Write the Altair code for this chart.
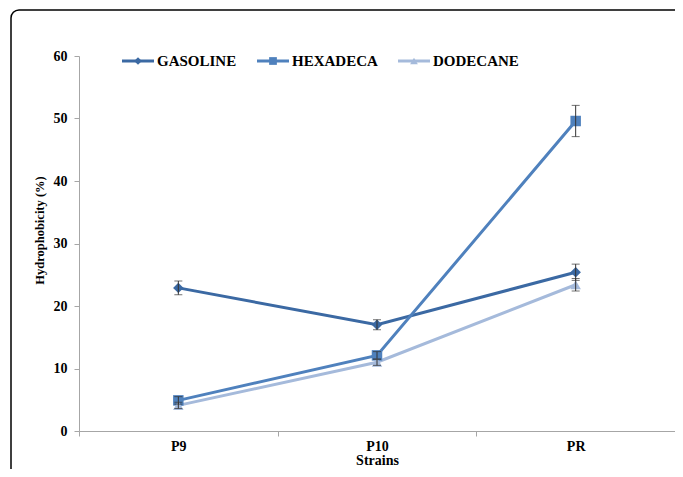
import altair as alt
import pandas as pd

strains = ["P9", "P10", "PR"]
series = ["GASOLINE", "HEXADECA", "DODECANE"]
gasoline = [22.9, 17.0, 25.4]
gasoline_err = [1.1, 0.8, 1.3]
hexadeca = [4.9, 12.1, 49.6]
hexadeca_err = [0.6, 0.6, 2.5]
dodecane = [4.1, 11.0, 23.4]
dodecane_err = [0.5, 0.5, 1.0]
colors = ["#3b69a3", "#4f81bd", "#a5badb"]
shapes = ["diamond", "square", "triangle-up"]
y_ticks = [0, 10, 20, 30, 40, 50, 60]

rows = []
for name, vals, errs in [("GASOLINE", gasoline, gasoline_err),
                         ("HEXADECA", hexadeca, hexadeca_err),
                         ("DODECANE", dodecane, dodecane_err)]:
    for s, v, e in zip(strains, vals, errs):
        rows.append({"strain": s, "series": name, "value": v,
                     "lo": v - e, "hi": v + e})
df = pd.DataFrame(rows)

FONT = "Liberation Serif"
W, H = 596, 375

color = alt.Color("series:N", scale=alt.Scale(domain=series, range=colors), legend=None)
shape = alt.Shape("series:N", scale=alt.Scale(domain=series, range=shapes), legend=None)
xenc = alt.X("strain:N", sort=strains, title="Strains",
             scale=alt.Scale(paddingInner=0, paddingOuter=0),
             axis=alt.Axis(labelAngle=0, bandPosition=0, tickBand="extent",
                           domainColor="#a6a6a6", tickColor="#a6a6a6", tickSize=5,
                           labelPadding=3, titleY=33, titleBaseline="alphabetic",
                           labelFont=FONT,
                           titleFont=FONT, labelFontSize=14, titleFontSize=14,
                           labelFontWeight="bold", titleFontWeight="bold",
                           labelColor="black", titleColor="black"))
yscale = alt.Scale(domain=[0, 60], nice=False, zero=True)
yenc = alt.Y("value:Q", scale=yscale, title="Hydrophobicity (%)",
             axis=alt.Axis(values=y_ticks, grid=False, domainColor="#a6a6a6",
                           tickColor="#a6a6a6", tickSize=5, labelPadding=7,
                           titleX=-40, titleY=174, titleAngle=270,
                           titleAlign="center", titleBaseline="middle",
                           labelFont=FONT, titleFont=FONT,
                           labelFontSize=14, titleFontSize=12.5,
                           labelFontWeight="bold", titleFontWeight="bold",
                           labelColor="black", titleColor="black"))

base = alt.Chart(df)
lines = base.mark_line(strokeWidth=3).encode(x=xenc, y=yenc, color=color,
                                              detail="series:N")
points = base.mark_point(filled=True, opacity=1, size=110).encode(
    x=xenc, y=yenc, color=color, shape=shape)
err = base.mark_rule(color="#333333", strokeWidth=1).encode(
    x=alt.X("strain:N", sort=strains), y=alt.Y("lo:Q", scale=yscale), y2="hi:Q")
cap_lo = base.mark_tick(color="#333333", orient="horizontal", size=8, thickness=1).encode(
    x=alt.X("strain:N", sort=strains), y=alt.Y("lo:Q", scale=yscale))
cap_hi = base.mark_tick(color="#333333", orient="horizontal", size=8, thickness=1).encode(
    x=alt.X("strain:N", sort=strains), y=alt.Y("hi:Q", scale=yscale))

main = alt.layer(lines, points, err, cap_lo, cap_hi)

# legend (layout positions)
leg_x = [43, 178, 319]
leg_df = pd.DataFrame({"series": series,
                       "x0": leg_x,
                       "x1": [v + 32 for v in leg_x],
                       "xm": [v + 16 for v in leg_x],
                       "xt": [v + 35 for v in leg_x]})
leg = alt.Chart(leg_df)
leg_rule = leg.mark_rule(strokeWidth=3).encode(
    x=alt.X("x0:Q", scale=None), x2="x1:Q", y=alt.value(5), color=color)
leg_pt = leg.mark_point(filled=True, opacity=1, size=60).encode(
    x=alt.X("xm:Q", scale=None), y=alt.value(5), color=color, shape=shape)
leg_txt = leg.mark_text(align="left", baseline="middle", font=FONT, fontSize=15,
                        fontWeight="bold", color="black").encode(
    x=alt.X("xt:Q", scale=None), y=alt.value(5), text="series:N")

frame = alt.Chart(pd.DataFrame({"a": [0]})).mark_rect(
    fill=None, stroke="black", strokeWidth=1.5, cornerRadius=8, clip=False).encode(
    x=alt.value(-68), x2=alt.value(720), y=alt.value(-46), y2=alt.value(520))

chart = alt.layer(frame, main, leg_rule, leg_pt, leg_txt).properties(
    width=W, height=H,
    autosize=alt.AutoSizeParams(type="none"),
    padding={"left": 71, "top": 48, "right": 0, "bottom": 38},
    background="white",
).configure_view(stroke=None)

chart.save("out.html", embed_options={"renderer": "svg", "actions": False})
